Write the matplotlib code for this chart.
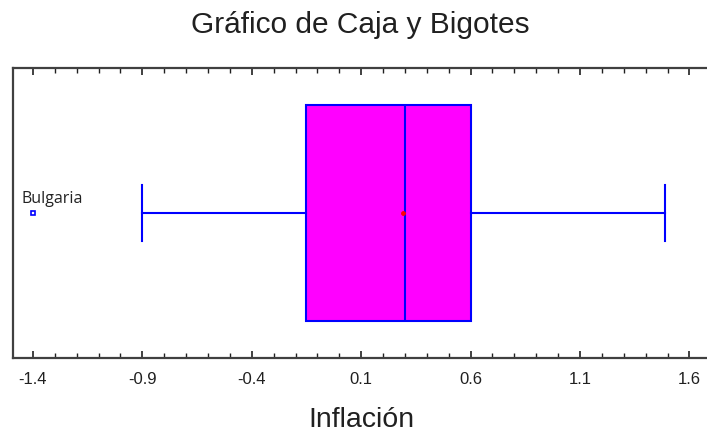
import matplotlib
matplotlib.use("Agg")
import matplotlib.pyplot as plt
from matplotlib.ticker import MultipleLocator, FixedLocator

# ---- data ----
variable = "Inflación"
q1 = -0.15
median = 0.30
q3 = 0.60
whisker_low = -0.90
whisker_high = 1.49
mean = 0.29
outlier_values = [-1.40]
outlier_labels = ["Bulgaria"]
major_ticks = [-1.4, -0.9, -0.4, 0.1, 0.6, 1.1, 1.6]
tick_labels = ["-1.4", "-0.9", "-0.4", "0.1", "0.6", "1.1", "1.6"]

W, H = 707, 434
fig = plt.figure(figsize=(W / 100, H / 100), dpi=100)
ax = fig.add_axes([13 / W, 1 - 358 / H, 1.0 - 13 / W + 0.003, 290 / H])

stats = [dict(med=median, q1=q1, q3=q3, whislo=whisker_low, whishi=whisker_high,
              mean=mean, fliers=outlier_values, label="")]
ax.bxp(stats, positions=[0.5], widths=0.745, orientation="horizontal",
       patch_artist=True, showmeans=True, manage_ticks=False,
       boxprops=dict(facecolor="#FF00FF", edgecolor="#0000FF", linewidth=1.5),
       medianprops=dict(color="#0000FF", linewidth=1.5),
       whiskerprops=dict(color="#0000FF", linewidth=1.5),
       capprops=dict(color="#0000FF", linewidth=1.5),
       capwidths=0.19,
       meanprops=dict(marker="o", markersize=2.5, markerfacecolor="red",
                      markeredgecolor="red"),
       flierprops=dict(marker="s", markersize=3.2, markerfacecolor="white",
                       markeredgecolor="#0000FF", markeredgewidth=1.2))

for v, lab in zip(outlier_values, outlier_labels):
    ax.annotate(lab, xy=(v, 0.5), xytext=(-8, 7.2), textcoords="offset points",
                fontsize=11.5, family="Open Sans", color="#222222",
                va="baseline", ha="left")

ax.set_xlim(-1.491, 1.69)
ax.set_ylim(0, 1)
ax.xaxis.set_major_locator(FixedLocator(major_ticks))
ax.set_xticklabels(tick_labels, family="Liberation Sans", fontsize=12, color="#202020")
ax.xaxis.set_minor_locator(MultipleLocator(0.1))
ax.tick_params(axis="x", which="both", direction="in", top=True, bottom=True,
               color="#202020")
ax.tick_params(axis="x", which="major", length=5, width=1.2, pad=10)
ax.tick_params(axis="x", which="minor", length=3.5, width=1.0)
ax.set_yticks([])
for s in ax.spines.values():
    s.set_color("#404040")
    s.set_linewidth(1.6)
ax.spines["right"].set_visible(False)

fig.text(361 / W, 1 - 427 / H, variable, family="Liberation Sans", fontsize=20.5,
         color="#202020", ha="center", va="baseline")
fig.text(360 / W, 1 - 33 / H, "Gráfico de Caja y Bigotes", family="Liberation Sans",
         fontsize=21.5, color="#202020", ha="center", va="baseline")

fig.savefig("out.png", dpi=100)
